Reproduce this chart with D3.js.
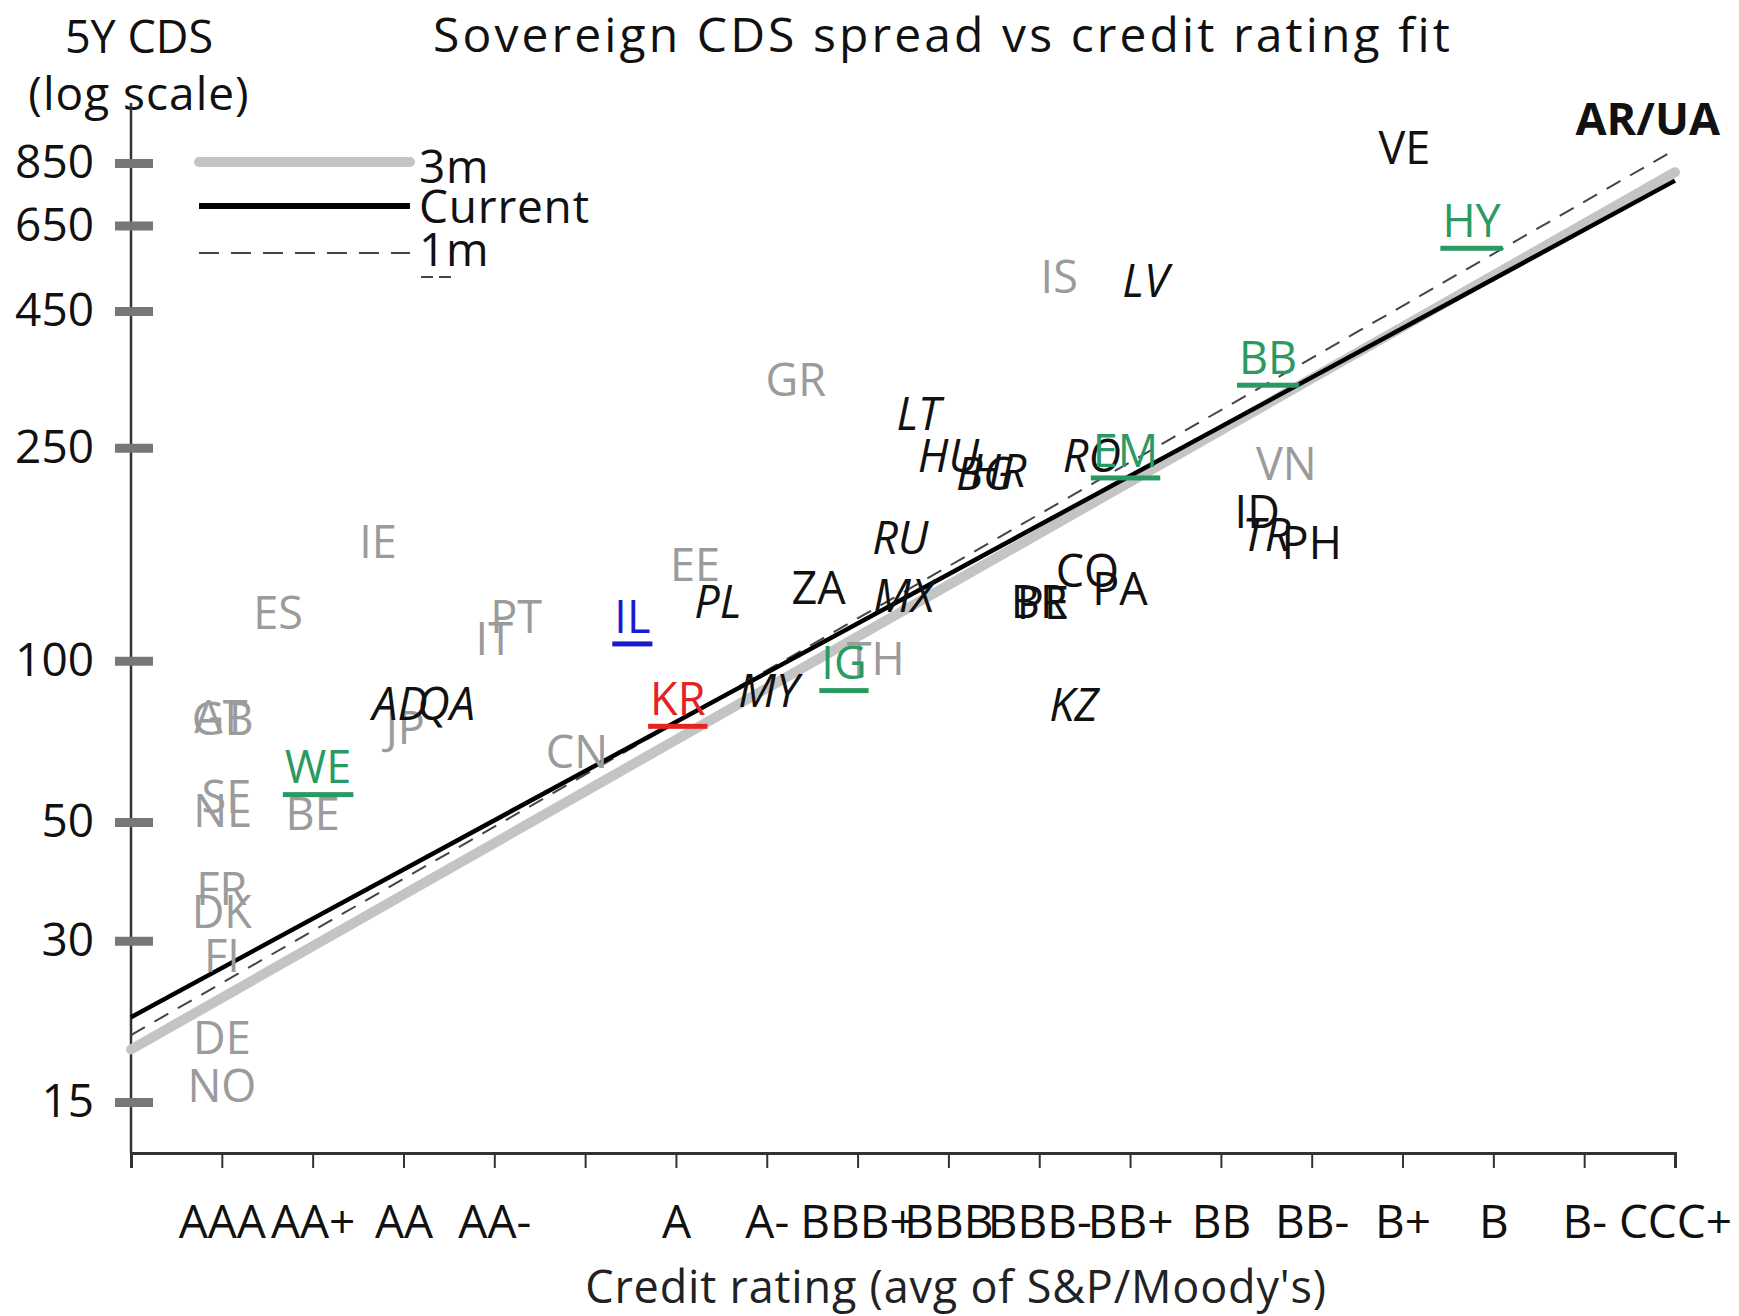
<!DOCTYPE html>
<html>
<head>
<meta charset="utf-8">
<script src="https://cdn.jsdelivr.net/npm/d3@7"></script>
<style>
  html, body { margin: 0; padding: 0; background: #fff; }
  svg { display: block; font-family: "Open Sans", "Noto Sans", sans-serif; }
</style>
</head>
<body>
<svg id="chart" width="1739" height="1316"></svg>
<script>
// Rating notches along the x axis (index 0 = axis origin, index 5 = A+ left unlabeled)
const ratingLabels = ["", "AAA", "AA+", "AA", "AA-", "", "A", "A-", "BBB+", "BBB", "BBB-",
                      "BB+", "BB", "BB-", "B+", "B", "B-", "CCC+"];
const yTickValues = [15, 30, 50, 100, 250, 450, 650, 850];

// Fitted log-linear curves, spread at notch 0 and at notch 17
const fitNames = ["3m", "Current", "1m"];
const fitNotches = [0, 17];
const fitStart = [18.8, 21.6, 20.0];
const fitEnd = [817, 788, 900];

// Sovereigns: code, average rating notch, 5Y CDS spread (bp), group
const codes = ["GR", "IE", "ES", "PT", "IT", "EE", "CN", "JP", "AT", "GB", "SE", "NL", "BE",
               "FR", "DK", "FI", "DE", "NO", "IS", "VN", "TH",
               "LV", "LT", "HU", "BG", "HR", "RO", "RU", "PL", "MX", "MY", "KZ", "TR", "AD", "QA",
               "ZA", "ID", "PH", "CO", "PA", "BR", "PE", "VE", "AR/UA",
               "IL", "KR", "IG", "WE", "EM", "BB", "HY"];
const ratings = [7.32, 2.72, 1.62, 4.24, 4.0, 6.21, 4.91, 3.02, 0.99, 1.01, 1.05, 1.0, 2.0,
                 1.0, 1.0, 1.0, 1.0, 1.0, 10.22, 12.72, 8.2,
                 11.17, 8.67, 9.0, 9.4, 9.55, 10.58, 8.47, 6.46, 8.51, 7.02, 10.38, 12.5, 2.96, 3.47,
                 7.57, 12.4, 13.0, 10.53, 10.89, 10.0, 10.04, 14.02, 16.7,
                 5.52, 6.02, 7.85, 2.06, 10.95, 12.52, 14.76];
const spreads = [334, 167, 123, 121, 110, 151, 67.5, 75, 78.5, 78, 55.7, 52.4, 51.7,
                 37.5, 34, 28.1, 19.8, 16.1, 520, 233, 101,
                 512, 289, 241, 223, 226, 241, 170, 129, 132, 88, 82.7, 172, 83, 83,
                 137, 190, 166, 147, 136, 129, 128.5, 909, 1028,
                 121, 84.9, 99, 63.3, 247, 368, 663];
const groups = ["dev", "dev", "dev", "dev", "dev", "dev", "dev", "dev", "dev", "dev", "dev", "dev", "dev",
                "dev", "dev", "dev", "dev", "dev", "dev", "dev", "dev",
                "emI", "emI", "emI", "emI", "emI", "emI", "emI", "emI", "emI", "emI", "emI", "emI", "emI", "emI",
                "em", "em", "em", "em", "em", "em", "em", "em", "hi",
                "il", "kr", "agg", "agg", "agg", "agg", "agg"];

const groupStyle = {
  dev: { fill: "#9b9b9b", italic: false, underline: false, weight: 400 },
  emI: { fill: "#111", italic: true, underline: false, weight: 400 },
  em:  { fill: "#111", italic: false, underline: false, weight: 500 },
  hi:  { fill: "#111", italic: false, underline: false, weight: 700 },
  il:  { fill: "#1a1ad0", italic: false, underline: true, weight: 400 },
  kr:  { fill: "#e62222", italic: false, underline: true, weight: 400 },
  agg: { fill: "#2b9a62", italic: false, underline: true, weight: 400 }
};

const svg = d3.select("#chart");

const x = d3.scaleLinear().domain([0, 17]).range([131, 1675]);
const y = d3.scaleLog().domain([15, 850]).range([1102, 163]);
const axisY0 = 1153, axisTop = 103;

// Title and axis titles
svg.append("text").attr("x", 943).attr("y", 52).attr("text-anchor", "middle")
  .attr("font-size", 48).attr("font-weight", 500).attr("letter-spacing", 3.1)
  .attr("fill", "#111").text("Sovereign CDS spread vs credit rating fit");
svg.append("text").attr("x", 139).attr("y", 53).attr("text-anchor", "middle")
  .attr("font-size", 45).attr("fill", "#111").text("5Y CDS");
svg.append("text").attr("x", 139).attr("y", 110).attr("text-anchor", "middle")
  .attr("font-size", 46).attr("letter-spacing", 1).attr("fill", "#111").text("(log scale)");
svg.append("text").attr("x", 956).attr("y", 1303).attr("text-anchor", "middle")
  .attr("font-size", 45).attr("letter-spacing", 0.8).attr("fill", "#222")
  .text("Credit rating (avg of S&P/Moody's)");

// Y axis: vertical line plus grey block ticks straddling it
svg.append("line").attr("x1", 131).attr("x2", 131).attr("y1", axisTop).attr("y2", axisY0)
  .attr("stroke", "#333").attr("stroke-width", 2.5);
const gy = svg.append("g").attr("transform", "translate(131,0)")
  .call(d3.axisLeft(y).tickValues(yTickValues).tickFormat(d3.format("d")).tickSize(0).tickPadding(37));
gy.select(".domain").remove();
gy.selectAll(".tick line").attr("x1", -16).attr("x2", 22)
  .attr("stroke", "#777").attr("stroke-width", 9);
gy.selectAll(".tick text").attr("font-size", 46).attr("fill", "#111")
  .attr("font-family", "Open Sans, Noto Sans, sans-serif");

// X axis
const gx = svg.append("g").attr("transform", `translate(0,${axisY0})`)
  .call(d3.axisBottom(x).tickValues(d3.range(0, 18)).tickFormat(i => ratingLabels[i])
    .tickSize(15).tickPadding(37));
gx.select(".domain").attr("stroke", "#333").attr("stroke-width", 3);
gx.selectAll(".tick line").attr("stroke", "#333").attr("stroke-width", 2);
gx.selectAll(".tick text").attr("font-size", 46).attr("fill", "#111")
  .attr("font-family", "Open Sans, Noto Sans, sans-serif");

// Fit lines
const fitStyle = {
  "3m": { stroke: "#c4c4c4", width: 10, dash: null },
  "Current": { stroke: "#000", width: 4.5, dash: null },
  "1m": { stroke: "#444", width: 2, dash: "16,11" }
};
const lineGen = d3.line().x(d => x(d[0])).y(d => y(d[1]));
const drawOrder = ["3m", "1m", "Current"];
drawOrder.forEach(name => {
  const i = fitNames.indexOf(name);
  const pts = [[fitNotches[0], fitStart[i]], [fitNotches[1], fitEnd[i]]];
  const s = fitStyle[name];
  svg.append("path").attr("d", lineGen(pts)).attr("fill", "none")
    .attr("stroke", s.stroke).attr("stroke-width", s.width)
    .attr("stroke-linecap", name === "3m" ? "round" : "butt")
    .attr("stroke-dasharray", s.dash);
});

// Legend
const legendRows = [
  { name: "3m", y: 162, ty: 183 },
  { name: "Current", y: 206, ty: 223 },
  { name: "1m", y: 253, ty: 266 }
];
legendRows.forEach(r => {
  const s = fitStyle[r.name];
  svg.append("line").attr("x1", 199).attr("x2", 410).attr("y1", r.y).attr("y2", r.y)
    .attr("stroke", s.stroke).attr("stroke-width", r.name === "Current" ? 6 : s.width)
    .attr("stroke-linecap", r.name === "3m" ? "round" : "butt")
    .attr("stroke-dasharray", r.name === "1m" ? "20,12" : s.dash);
  svg.append("text").attr("x", 419).attr("y", r.ty).attr("font-size", 46)
    .attr("letter-spacing", 0.8).attr("fill", "#111").text(r.name);
});
svg.append("line").attr("x1", 421).attr("x2", 457).attr("y1", 277).attr("y2", 277)
  .attr("stroke", "#444").attr("stroke-width", 2).attr("stroke-dasharray", "12,6");

// Country and aggregate labels
const labels = svg.append("g");
codes.forEach((code, i) => {
  const st = groupStyle[groups[i]];
  const cx = x(ratings[i]), cy = y(spreads[i]);
  const t = labels.append("text").attr("x", cx).attr("y", cy).attr("dy", "0.36em")
    .attr("text-anchor", "middle").attr("font-size", 45)
    .attr("font-style", st.italic ? "italic" : "normal")
    .attr("font-weight", st.weight)
    .attr("fill", st.fill).text(code);
  if (st.underline) {
    const w = t.node().getComputedTextLength();
    labels.append("rect").attr("x", cx - w / 2 - 2).attr("y", cy + 25)
      .attr("width", w + 4).attr("height", 5).attr("fill", st.fill);
  }
});
</script>
</body>
</html>
